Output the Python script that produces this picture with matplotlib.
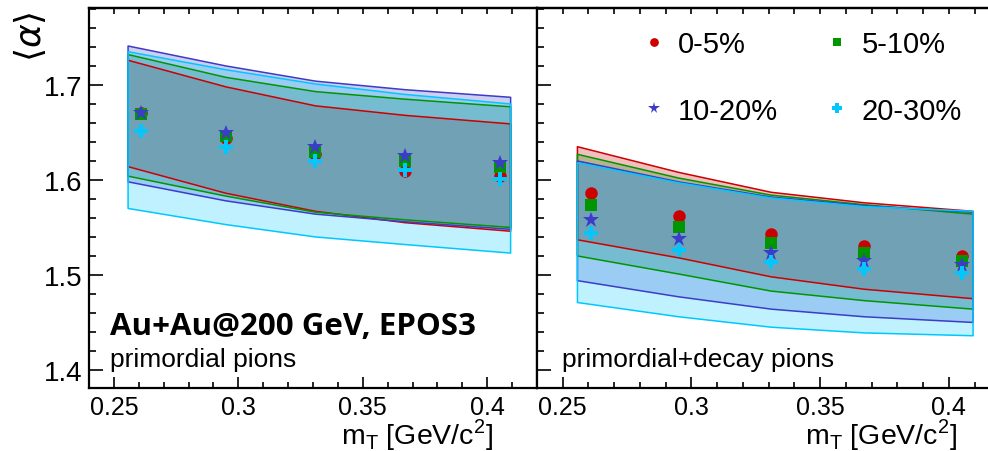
import numpy as np
import matplotlib.pyplot as plt
from matplotlib.ticker import MultipleLocator

plt.rcParams['font.family'] = ['Liberation Sans', 'DejaVu Sans']

# m_T positions of the points and of the band edges
mt = [0.261, 0.295, 0.331, 0.367, 0.405]
mt_band = [0.2557, 0.295, 0.331, 0.367, 0.4094]

labels = ['0-5%', '5-10%', '10-20%', '20-30%']
colors = ['#cc0000', '#009600', '#3c3cc8', '#00c8ff']
markers = ['o', 's', '*', 'P']
msizes = [9, 8.5, 12, 10]

# primordial pions
prim_0_5 = [1.670, 1.644, 1.627, 1.609, 1.604]
prim_5_10 = [1.669, 1.646, 1.629, 1.620, 1.614]
prim_10_20 = [1.670, 1.649, 1.635, 1.625, 1.618]
prim_20_30 = [1.652, 1.635, 1.620, 1.611, 1.601]

prim_hi_0_5 = [1.726, 1.698, 1.678, 1.668, 1.659]
prim_lo_0_5 = [1.614, 1.586, 1.567, 1.555, 1.546]
prim_hi_5_10 = [1.732, 1.708, 1.693, 1.685, 1.677]
prim_lo_5_10 = [1.604, 1.583, 1.566, 1.558, 1.550]
prim_hi_10_20 = [1.741, 1.720, 1.704, 1.695, 1.687]
prim_lo_10_20 = [1.598, 1.578, 1.564, 1.556, 1.548]
prim_hi_20_30 = [1.735, 1.716, 1.701, 1.690, 1.680]
prim_lo_20_30 = [1.570, 1.553, 1.540, 1.532, 1.523]

# primordial + decay pions
dec_0_5 = [1.586, 1.562, 1.543, 1.531, 1.520]
dec_5_10 = [1.574, 1.550, 1.534, 1.523, 1.515]
dec_10_20 = [1.558, 1.538, 1.523, 1.515, 1.510]
dec_20_30 = [1.544, 1.526, 1.514, 1.506, 1.502]

dec_hi_0_5 = [1.635, 1.608, 1.587, 1.576, 1.567]
dec_lo_0_5 = [1.537, 1.518, 1.498, 1.485, 1.475]
dec_hi_5_10 = [1.627, 1.602, 1.584, 1.574, 1.564]
dec_lo_5_10 = [1.520, 1.501, 1.483, 1.473, 1.464]
dec_hi_10_20 = [1.620, 1.598, 1.582, 1.573, 1.566]
dec_lo_10_20 = [1.494, 1.477, 1.464, 1.456, 1.450]
dec_hi_20_30 = [1.618, 1.597, 1.581, 1.572, 1.567]
dec_lo_20_30 = [1.471, 1.456, 1.445, 1.439, 1.436]


def draw_panel(ax, points, highs, lows):
    # bands first (red at the bottom, cyan on top), then their outlines
    for c, hi, lo in zip(colors, highs, lows):
        ax.fill_between(mt_band, lo, hi, facecolor=c, alpha=0.25, linewidth=0)
    for c, hi, lo in zip(colors, highs, lows):
        ax.fill_between(mt_band, lo, hi, facecolor='none', edgecolor=c, linewidth=1.1)
    handles = []
    for c, m, ms, y, lab in zip(colors, markers, msizes, points, labels):
        h, = ax.plot(mt, y, linestyle='none', marker=m, color=c, markersize=ms,
                     markeredgewidth=0, label=lab)
        handles.append(h)
    ax.set_ylim(1.381, 1.781)
    ax.xaxis.set_major_locator(MultipleLocator(0.05))
    ax.xaxis.set_minor_locator(MultipleLocator(0.01))
    ax.yaxis.set_major_locator(MultipleLocator(0.1))
    ax.yaxis.set_minor_locator(MultipleLocator(0.02))
    ax.tick_params(axis='x', which='major', direction='in', length=8, width=1.2,
                   labelsize=18, pad=5)
    ax.tick_params(axis='x', which='minor', direction='in', length=4.5, width=1.2)
    ax.tick_params(axis='y', which='major', direction='in', length=10, width=1.2,
                   labelsize=20, pad=5)
    ax.tick_params(axis='y', which='minor', direction='in', length=5, width=1.2)
    ax.xaxis.set_major_formatter(lambda v, p: f'{v:g}')
    top = ax.secondary_xaxis('top')
    top.xaxis.set_major_locator(MultipleLocator(0.01))
    top.tick_params(direction='in', length=4.5, width=1.2, labeltop=False)
    for s in ax.spines.values():
        s.set_linewidth(1.6)
    top.spines['top'].set_linewidth(1.6)
    return handles


fig = plt.figure(figsize=(9.88, 4.52), dpi=100)
ax1 = fig.add_axes([89 / 988, 63 / 452, 448 / 988, 380 / 452])
ax2 = fig.add_axes([537 / 988, 63 / 452, 451 / 988, 380 / 452], sharey=ax1)

draw_panel(ax1, [prim_0_5, prim_5_10, prim_10_20, prim_20_30],
           [prim_hi_0_5, prim_hi_5_10, prim_hi_10_20, prim_hi_20_30],
           [prim_lo_0_5, prim_lo_5_10, prim_lo_10_20, prim_lo_20_30])
handles = draw_panel(ax2, [dec_0_5, dec_5_10, dec_10_20, dec_20_30],
                     [dec_hi_0_5, dec_hi_5_10, dec_hi_10_20, dec_hi_20_30],
                     [dec_lo_0_5, dec_lo_5_10, dec_lo_10_20, dec_lo_20_30])

ax1.set_xlim(0.24, 0.42)
ax2.set_xlim(0.24, 0.4152)
ax2.tick_params(axis='y', labelleft=False)
ax2.spines['right'].set_visible(False)

fig.text(31 / 988, 1 - 37 / 452, r'$\langle\alpha\rangle$', fontsize=26, rotation=90,
         ha='center', va='center')

xlab = r'm$_\mathregular{T}$ [GeV/c$^\mathregular{2}$]'
ax1.text(0.902, -0.146, xlab, transform=ax1.transAxes,
         ha='right', va='baseline', fontsize=20.5)
ax2.text(0.931, -0.146, xlab, transform=ax2.transAxes,
         ha='right', va='baseline', fontsize=20.5)

ax1.text(0.047, 0.142, 'Au+Au@200 GeV, EPOS3', transform=ax1.transAxes,
         fontsize=22.5, fontweight='bold', family='Open Sans', ha='left', va='baseline')
ax1.text(0.047, 0.058, 'primordial pions', transform=ax1.transAxes,
         fontsize=19, ha='left', va='baseline')
ax2.text(0.055, 0.058, 'primordial+decay pions', transform=ax2.transAxes,
         fontsize=19, ha='left', va='baseline')

# legend filled row by row: 0-5% and 5-10% on the first row
order = [0, 2, 1, 3]
ax2.legend(handles=[handles[i] for i in order], ncol=2, frameon=False, loc='upper left',
           bbox_to_anchor=(0.233, 0.941), borderpad=0, borderaxespad=0,
           fontsize=21, markerscale=0.7, handlelength=0.8, handletextpad=0.43,
           columnspacing=1.63, labelspacing=1.31)

fig.savefig('out.png', dpi=100)
